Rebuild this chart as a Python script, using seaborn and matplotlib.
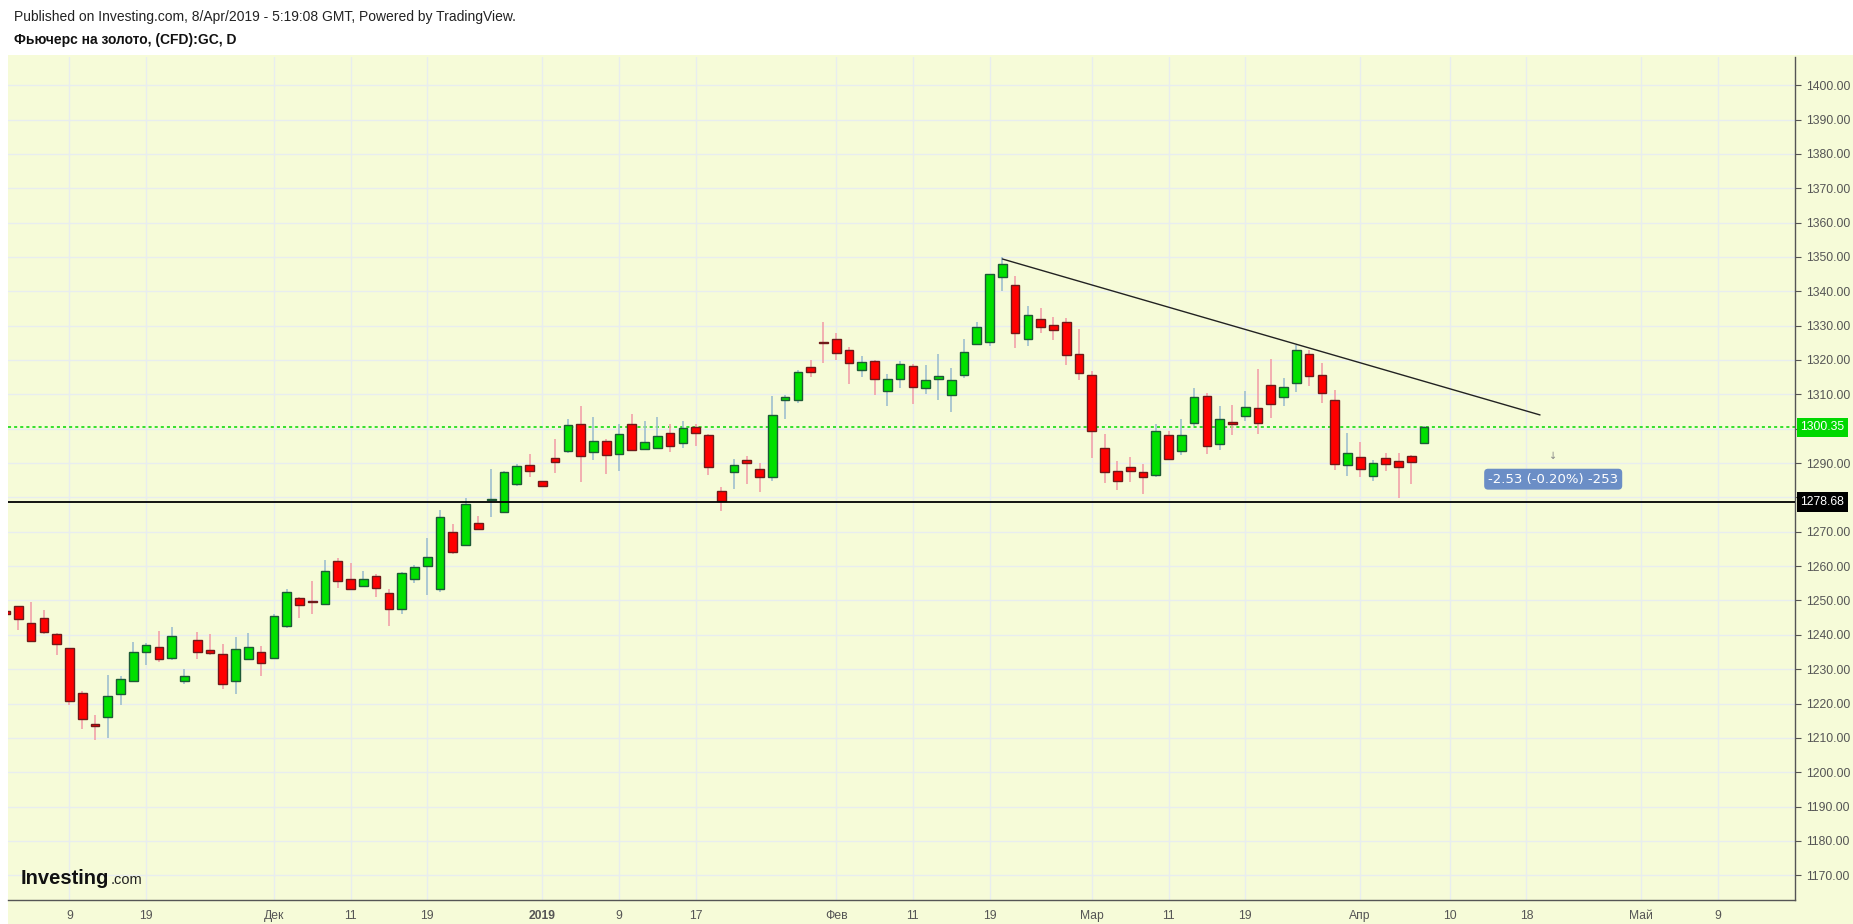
import numpy as np
import pandas as pd
import matplotlib
matplotlib.use("Agg")
import matplotlib.pyplot as plt
import matplotlib.transforms as mtransforms
from matplotlib.patches import Rectangle
import seaborn as sns

# daily bars, Nov 2 2018 .. Apr 8 2019 (all weekdays)
dates = pd.bdate_range("2018-11-02", periods=112)

open_ = [1247.0, 1248.3, 1243.4, 1244.9, 1240.2, 1236.1, 1223.0, 1214.0, 1216.0, 1222.7,
         1226.5, 1235.0, 1236.4, 1233.2, 1226.5, 1238.4, 1235.5, 1234.4, 1226.5, 1232.9,
         1235.0, 1233.2, 1242.5, 1250.7, 1249.8, 1248.9, 1261.5, 1256.2, 1254.2, 1257.1,
         1252.1, 1247.5, 1256.2, 1260.0, 1253.3, 1269.9, 1266.1, 1272.5, 1279.1, 1275.7,
         1283.9, 1289.4, 1284.8, 1291.5, 1293.5, 1301.4, 1293.2, 1296.4, 1292.6, 1301.4,
         1294.1, 1294.4, 1298.8, 1295.9, 1300.5, 1298.2, 1281.8, 1287.4, 1290.9, 1288.2,
         1285.9, 1308.4, 1308.4, 1318.0, 1325.3, 1326.0, 1322.8, 1317.0, 1319.6, 1310.9,
         1314.4, 1318.2, 1311.7, 1314.4, 1309.7, 1315.5, 1324.6, 1325.1, 1344.1, 1341.7,
         1326.0, 1331.8, 1330.1, 1331.0, 1321.7, 1315.5, 1294.5, 1287.7, 1288.9, 1287.4,
         1286.5, 1298.2, 1293.5, 1301.7, 1309.6, 1295.6, 1302.0, 1303.8, 1306.1, 1312.8,
         1309.3, 1313.4, 1321.6, 1315.5, 1308.4, 1289.5, 1291.8, 1286.2, 1291.5, 1290.6,
         1292.1, 1295.9]
high = [1248.0, 1248.5, 1249.6, 1247.3, 1240.4, 1236.3, 1223.7, 1216.7, 1228.3, 1228.1,
        1238.0, 1237.5, 1241.2, 1242.3, 1229.9, 1240.9, 1240.3, 1237.4, 1239.4, 1240.6,
        1236.8, 1246.1, 1253.4, 1250.9, 1255.7, 1261.8, 1262.4, 1260.9, 1258.6, 1257.7,
        1253.3, 1258.3, 1260.3, 1268.3, 1276.4, 1272.3, 1279.8, 1274.7, 1288.3, 1287.8,
        1289.8, 1292.7, 1284.9, 1297.1, 1302.9, 1306.5, 1303.3, 1297.0, 1301.5, 1304.4,
        1302.1, 1303.3, 1301.4, 1302.1, 1301.4, 1298.4, 1283.0, 1291.2, 1292.0, 1290.0,
        1309.4, 1309.9, 1317.0, 1320.0, 1331.0, 1328.0, 1323.8, 1321.2, 1319.9, 1315.8,
        1319.7, 1318.7, 1318.5, 1321.7, 1317.7, 1326.1, 1331.1, 1345.1, 1349.9, 1344.4,
        1335.6, 1335.0, 1332.4, 1332.1, 1328.9, 1316.7, 1298.5, 1290.7, 1291.9, 1289.6,
        1301.5, 1299.2, 1302.7, 1311.8, 1310.3, 1306.5, 1306.8, 1310.9, 1317.3, 1320.2,
        1314.7, 1324.5, 1322.8, 1319.1, 1311.2, 1298.6, 1296.0, 1291.0, 1293.0, 1292.8,
        1292.2, 1300.8]
low = [1245.0, 1241.3, 1238.0, 1240.1, 1234.0, 1219.7, 1212.7, 1209.5, 1210.1, 1219.7,
       1226.3, 1231.1, 1232.2, 1232.8, 1225.8, 1233.0, 1234.2, 1224.1, 1222.9, 1232.8,
       1227.9, 1233.0, 1242.1, 1245.0, 1246.2, 1248.8, 1253.5, 1252.9, 1253.8, 1250.9,
       1242.7, 1246.2, 1255.2, 1251.7, 1252.6, 1263.5, 1266.0, 1270.7, 1274.2, 1275.6,
       1283.3, 1285.8, 1282.9, 1287.0, 1292.8, 1284.6, 1290.8, 1286.7, 1287.6, 1293.5,
       1294.0, 1294.3, 1293.1, 1294.3, 1294.9, 1286.4, 1276.1, 1282.3, 1284.0, 1281.7,
       1284.9, 1302.9, 1307.5, 1315.0, 1319.0, 1320.0, 1313.1, 1315.1, 1309.9, 1306.7,
       1311.9, 1307.3, 1310.2, 1308.4, 1305.0, 1314.7, 1324.5, 1324.2, 1340.2, 1323.6,
       1324.2, 1327.8, 1325.9, 1318.6, 1314.3, 1291.6, 1284.3, 1282.1, 1284.4, 1280.9,
       1285.9, 1290.8, 1292.2, 1300.7, 1292.6, 1293.7, 1298.1, 1302.3, 1298.4, 1303.1,
       1306.6, 1310.7, 1312.4, 1307.5, 1287.9, 1286.2, 1285.9, 1284.7, 1287.6, 1279.7,
       1283.8, 1295.8]
close = [1246.0, 1244.6, 1238.3, 1240.8, 1237.3, 1220.7, 1215.4, 1213.4, 1222.1, 1227.1,
         1235.0, 1237.0, 1232.9, 1239.6, 1228.0, 1235.0, 1234.7, 1225.6, 1235.8, 1236.4,
         1231.7, 1245.4, 1252.4, 1248.6, 1249.6, 1258.5, 1255.6, 1253.3, 1256.2, 1253.6,
         1247.5, 1258.0, 1259.7, 1262.6, 1274.3, 1264.1, 1278.1, 1270.8, 1279.3, 1287.4,
         1289.1, 1287.7, 1283.3, 1290.3, 1301.1, 1292.0, 1296.4, 1292.3, 1298.5, 1293.8,
         1296.1, 1297.9, 1295.0, 1300.2, 1298.8, 1288.8, 1278.9, 1289.4, 1290.0, 1285.9,
         1304.0, 1309.3, 1316.5, 1316.5, 1325.0, 1322.1, 1319.2, 1319.3, 1314.4, 1314.4,
         1318.7, 1312.0, 1314.1, 1315.2, 1314.1, 1322.2, 1329.5, 1345.0, 1347.9, 1327.8,
         1333.0, 1329.5, 1328.6, 1321.4, 1316.1, 1299.2, 1287.5, 1284.8, 1287.7, 1285.9,
         1299.4, 1291.2, 1298.2, 1309.3, 1295.0, 1302.9, 1301.4, 1306.4, 1301.7, 1307.3,
         1312.2, 1322.8, 1315.2, 1310.5, 1289.7, 1293.0, 1288.3, 1290.0, 1289.7, 1288.9,
         1290.3, 1300.35]

# trend line (bar index, price)
trend_x = [78, 120.07]
trend_y = [1349.4, 1304.0]

last_price = 1300.35
level_price = 1278.68
change_text = "-2.53 (-0.20%) -253"

tick_dates = ["2018-11-09", "2018-11-19", "2018-12-03", "2018-12-11", "2018-12-19",
              "2019-01-01", "2019-01-09", "2019-01-17", "2019-02-01", "2019-02-11",
              "2019-02-19", "2019-03-01", "2019-03-11", "2019-03-19", "2019-04-01",
              "2019-04-10", "2019-04-18", "2019-05-01", "2019-05-09"]
tick_labels = ["9", "19", "Дек", "11", "19", "2019", "9", "17", "Фев", "11",
               "19", "Мар", "11", "19", "Апр", "10", "18", "Май", "9"]

W, H = 1853, 924
bg = "#f6fbd8"
sns.set_style("white")
plt.rcParams['font.family'] = ['Liberation Sans', 'DejaVu Sans']

fig = plt.figure(figsize=(W / 100, H / 100), dpi=100)
fig.patch.set_facecolor("white")
fig.patches.append(Rectangle((8 / W, 0), 1 - 8 / W, 1 - 55 / H, transform=fig.transFigure,
                             facecolor=bg, edgecolor="none", zorder=-10))

ax = fig.add_axes([8 / W, 1 - 900 / H, (1795 - 8) / W, (900 - 57) / H])
ax.set_zorder(1)
ax.set_facecolor(bg)

x = np.arange(len(dates))
o = np.array(open_)
c = np.array(close)
hi = np.array(high)
lo = np.array(low)
up = c >= o
body_lo = np.minimum(o, c)
body_h = np.maximum(np.abs(c - o), 0.35)

ax.vlines(x[up], lo[up], hi[up], color="#9fc0cf", lw=1.2, zorder=2)
ax.vlines(x[~up], lo[~up], hi[~up], color="#f2a2aa", lw=1.2, zorder=2)
ax.bar(x[up], body_h[up], bottom=body_lo[up], width=0.68, color="#00e000",
       edgecolor="#1d5a36", linewidth=1.0, zorder=3)
ax.bar(x[~up], body_h[~up], bottom=body_lo[~up], width=0.68, color="#ff0000",
       edgecolor="#6e1a1a", linewidth=1.0, zorder=3)

# lines
ax.axhline(last_price, color="#00d800", lw=1.1, ls=(0, (2, 2)), zorder=1)
ax.axhline(level_price, color="black", lw=1.3, zorder=4)
sns.lineplot(x=trend_x, y=trend_y, ax=ax, color="#222222", lw=1.0, zorder=4)

# axes
ax.set_xlim(0.194, 140.02)
ax.set_ylim(1162.8, 1408.2)

all_days = pd.bdate_range("2018-11-02", "2019-06-30")
pos = {d: i for i, d in enumerate(all_days)}
tpos = [pos[pd.Timestamp(d)] for d in tick_dates]
ax.set_xticks(tpos)
ax.set_xticklabels(tick_labels)
for lab in ax.get_xticklabels():
    if lab.get_text() == "2019":
        lab.set_fontweight("bold")
        lab.set_color("#333333")

yt = np.arange(1170, 1401, 10)
ax.yaxis.tick_right()
ax.set_yticks(yt)
ax.set_yticklabels([f"{v:.2f}" for v in yt])
# hide the regular labels sitting under the price boxes
for lab, v in zip(ax.get_yticklabels(), yt):
    if v in (1300, 1280):
        lab.set_visible(False)

ax.tick_params(axis="both", labelsize=8.7, colors="#555555", length=4, width=0.8)
ax.tick_params(axis="x", pad=3)
ax.tick_params(axis="y", pad=4)
ax.grid(True, color="#e8edef", lw=1, zorder=0)
ax.set_axisbelow(True)
for s in ["top", "left"]:
    ax.spines[s].set_visible(False)
for s in ["right", "bottom"]:
    ax.spines[s].set_color("#555555")
    ax.spines[s].set_linewidth(1.0)

# price labels on the right axis
tr = mtransforms.blended_transform_factory(ax.transAxes, ax.transData)
ax.text(1.003, last_price, "1300.35", transform=tr, ha="left", va="center", fontsize=8.7,
        color="white", bbox=dict(boxstyle="square,pad=0.3", fc="#00d800", ec="none"),
        clip_on=False, zorder=6)
ax.text(1.003, level_price, "1278.68", transform=tr, ha="left", va="center", fontsize=8.7,
        color="white", bbox=dict(boxstyle="square,pad=0.3", fc="black", ec="none"),
        clip_on=False, zorder=6)

# change box
ax.text(121.1, 1285.3, change_text, ha="center", va="center", fontsize=9.5,
        color="white", family="DejaVu Sans",
        bbox=dict(boxstyle="round,pad=0.3,rounding_size=0.3", fc="#6b8ec6", ec="none"),
        zorder=6)
ax.text(121.1, 1292.2, "↓", ha="center", va="center", fontsize=7, color="#888888",
        family="DejaVu Sans", zorder=6)

# header
fig.text(14 / W, 1 - 17 / H, "Published on Investing.com, 8/Apr/2019 - 5:19:08 GMT, Powered by TradingView.",
         fontsize=10, color="#222222", va="center", ha="left")
fig.text(14 / W, 1 - 40 / H, "Фьючерс на золото, (CFD):GC, D",
         fontsize=10, color="#111111", va="center", ha="left", fontweight="bold")

# logo
fig.text(21 / W, 1 - 884 / H, "Investing", fontsize=14.5, fontweight="bold",
         color="#111111", va="baseline", ha="left", zorder=5)
fig.text(111 / W, 1 - 884 / H, ".com", fontsize=10.5, color="#222222",
         va="baseline", ha="left", zorder=5)

fig.savefig("out.png", dpi=100, facecolor=fig.get_facecolor())
